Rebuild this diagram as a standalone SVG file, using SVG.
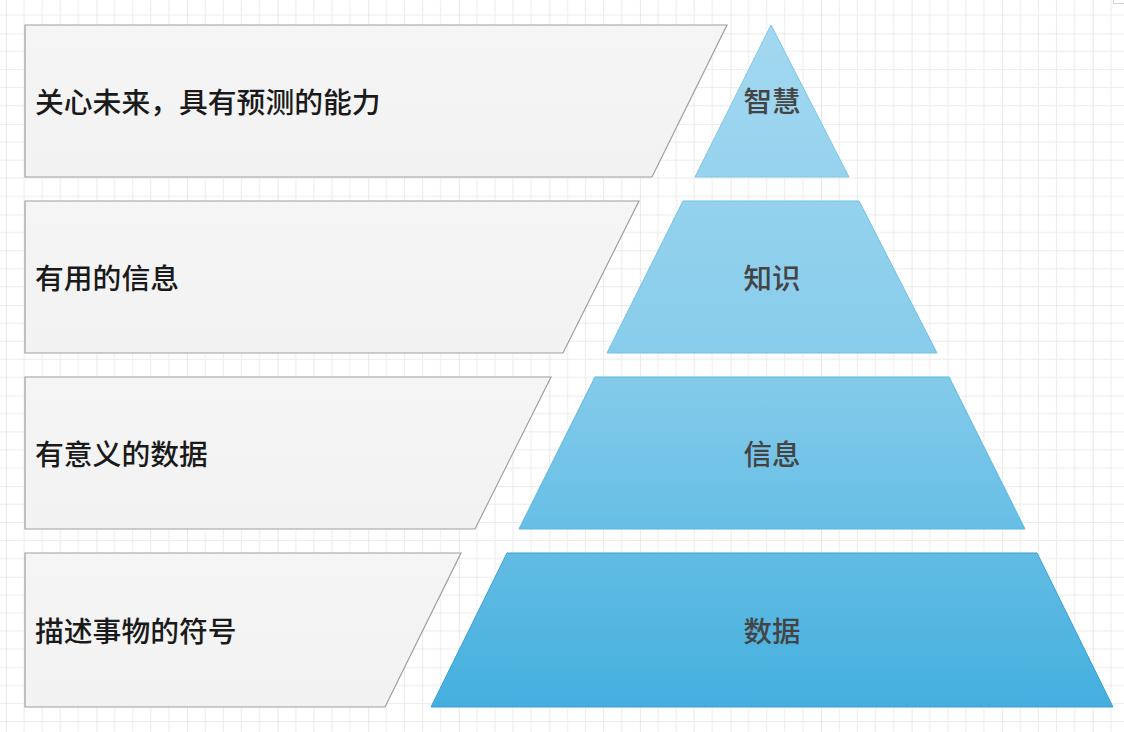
<svg xmlns="http://www.w3.org/2000/svg" width="1124" height="732" viewBox="0 0 1124 732">
  <defs>
    <pattern id="grid" patternUnits="userSpaceOnUse" x="5.9" y="33.3" width="90.57" height="90.57">
      <path d="M18.11 0V90.57M36.23 0V90.57M54.34 0V90.57M72.46 0V90.57M0 18.11H90.57M0 36.23H90.57M0 54.34H90.57M0 72.46H90.57" stroke="#ebebeb" stroke-width="1" fill="none"/>
      <path d="M0 0V90.57M0 0H90.57" stroke="#d9d9d9" stroke-width="1.2" fill="none"/>
    </pattern>
    <linearGradient id="blue" gradientUnits="userSpaceOnUse" x1="0" y1="25" x2="0" y2="707">
      <stop offset="0" stop-color="#a3d8f0"/>
      <stop offset="0.5" stop-color="#86cceb"/>
      <stop offset="1" stop-color="#44afde"/>
    </linearGradient>
    <linearGradient id="gray" x1="0" y1="0" x2="0" y2="1">
      <stop offset="0" stop-color="#f5f5f5"/>
      <stop offset="1" stop-color="#f2f2f2"/>
    </linearGradient>
  </defs>
  <style>
    .box { fill: url(#gray); stroke: #9e9e9e; stroke-width: 1.2; }
    .lvl { fill: url(#blue); stroke-width: 1; }
    .desc { font-family: "Noto Sans CJK SC", "Noto Sans", sans-serif; font-size: 28.8px; font-weight: 500; fill: #1a1a1a; dominant-baseline: central; }
    .name { font-family: "Noto Sans CJK SC", "Noto Sans", sans-serif; font-size: 28.5px; font-weight: 500; fill: #444444; dominant-baseline: central; text-anchor: middle; }
  </style>
  <rect width="1124" height="732" fill="#ffffff"/>
  <rect width="1124" height="732" fill="url(#grid)"/>
  <path d="M1113.5 0V3.5H1124" fill="none" stroke="#d0d0d0" stroke-width="1"/>

  <g id="connectors"></g>

  <g id="desc-wisdom">
    <polygon class="box" points="25,25 727,25 652,177 25,177"/>
    <text class="desc" x="35" y="100">关心未来，具有预测的能力</text>
  </g>
  <g id="desc-knowledge">
    <polygon class="box" points="25,201 639,201 563,353 25,353"/>
    <text class="desc" x="35" y="276">有用的信息</text>
  </g>
  <g id="desc-information">
    <polygon class="box" points="25,377 551,377 475,529 25,529"/>
    <text class="desc" x="35" y="452">有意义的数据</text>
  </g>
  <g id="desc-data">
    <polygon class="box" points="25,553 461,553 385,707 25,707"/>
    <text class="desc" x="35" y="629">描述事物的符号</text>
  </g>

  <g id="level-wisdom">
    <polygon class="lvl" stroke="#7cc6e8" points="771,25 849,177 695,177"/>
    <text class="name" x="772" y="99">智慧</text>
  </g>
  <g id="level-knowledge">
    <polygon class="lvl" stroke="#6fc0e6" points="683,201 859,201 937,353 607,353"/>
    <text class="name" x="772" y="276">知识</text>
  </g>
  <g id="level-information">
    <polygon class="lvl" stroke="#5ab6e0" points="595,377 949,377 1025,529 519,529"/>
    <text class="name" x="772" y="452">信息</text>
  </g>
  <g id="level-data">
    <polygon class="lvl" stroke="#3a9fd2" points="507,553 1037,553 1113,707 431,707"/>
    <text class="name" x="772" y="629">数据</text>
  </g>
</svg>
